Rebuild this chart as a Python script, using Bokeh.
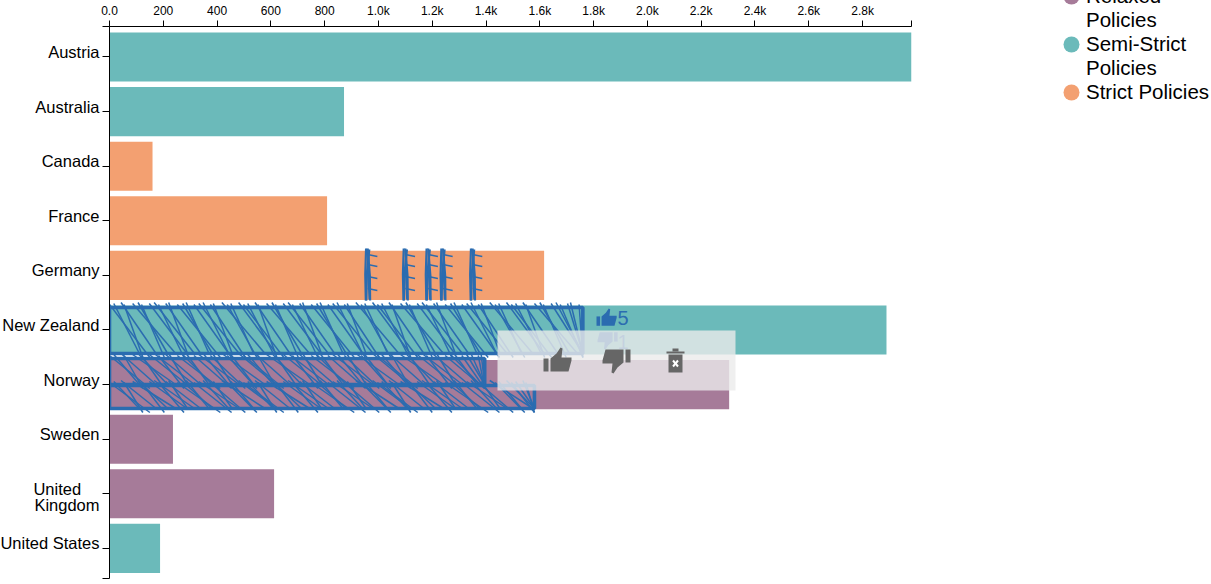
import numpy as np
from bokeh.plotting import figure
from bokeh.embed import file_html
from bokeh.resources import INLINE
from bokeh.core.properties import value
from bokeh.models import (ColumnDataSource, FixedTicker, Legend, LegendItem, LinearAxis, Range1d)

countries = ["Austria", "Australia", "Canada", "France", "Germany", "New Zealand",
             "Norway", "Sweden", "United Kingdom", "United States"]
amounts = [2982, 872, 160, 809, 1616, 2889, 2304, 236, 612, 188]
policies = ["Semi", "Semi", "Strict", "Strict", "Strict", "Semi", "Relaxed", "Relaxed", "Relaxed", "Semi"]
group_names = ["Relaxed", "Semi", "Strict"]
group_colors = ["#a67b99", "#6bbaba", "#f3a071"]
legend_lines = ["Relaxed", "Policies", "Semi-Strict", "Policies", "Strict Policies"]
legend_dots = ["#a67b99", None, "#6bbaba", None, "#f3a071"]
tick_values = [0, 200, 400, 600, 800, 1000, 1200, 1400, 1600, 1800, 2000, 2200, 2400, 2600, 2800]
tick_labels = ["0.0", "200", "400", "600", "800", "1.0k", "1.2k", "1.4k", "1.6k", "1.8k",
               "2.0k", "2.2k", "2.4k", "2.6k", "2.8k"]
# label rows: the long name wraps over a second line just under its own row
label_rows = [0, 1, 2, 3, 4, 5, 6, 7, 8, 8.3, 9]
label_texts = ["Austria", "Australia", "Canada", "France", "Germany", "New Zealand", "Norway", "Sweden",
               "United\u00a0\u00a0\u00a0\u00a0", "Kingdom", "United States"]

# hand-drawn selections: value from, value to, pixel top, pixel bottom
sel_x0 = [0, 0, 0]
sel_x1 = [1760, 1395, 1580]
sel_top = [307, 358, 385]
sel_bot = [353, 384, 408]
# brush strokes on Germany, at these values
germany_marks = [960, 1100, 1185, 1240, 1350]
stroke_steps = [16, 27, 11, 32, 20, 13, 29, 18]
stroke_slants = [150, 95, 130, 70, 160, 110, 85, 140]
ink = "#2b6cb0"

rows = list(range(len(countries)))
TOP_ROW, BOTTOM_ROW = -0.5586, 9.5513
LABEL_LIFT = 0.09  # names sit a little above their tick

p = figure(width=1211, height=584, output_backend="svg", toolbar_location=None,
           x_range=Range1d(0, 2982), x_axis_location="above",
           y_range=Range1d(BOTTOM_ROW, TOP_ROW),
           min_border_left=109, min_border_top=26, min_border_bottom=6,
           min_border_right=300, frame_width=802, frame_height=552, margin=(0, 0, 0, -3))
p.extra_y_ranges["px"] = Range1d(578, 26)
p.extra_y_ranges["labels"] = Range1d(BOTTOM_ROW + LABEL_LIFT, TOP_ROW + LABEL_LIFT)
p.extra_x_ranges["px"] = Range1d(109, 911)
p.grid.visible = False
p.outline_line_color = None
p.background_fill_color = None

xa = p.xaxis[0]
xa.ticker = FixedTicker(ticks=tick_values + [2982])
xa.major_label_overrides = {**dict(zip(tick_values, tick_labels)), 2982: ""}
xa.major_tick_out = 6
xa.major_tick_in = 0
xa.minor_tick_line_color = None
xa.major_label_standoff = 3
xa.major_label_text_font = "Liberation Sans"
xa.major_label_text_font_size = "12px"
xa.major_label_text_color = "#000000"
xa.axis_line_color = "#000000"
xa.major_tick_line_color = "#000000"

ya = p.yaxis[0]
ya.ticker = FixedTicker(ticks=rows + [TOP_ROW, BOTTOM_ROW])
ya.major_label_overrides = {**{r: "" for r in rows}, TOP_ROW: "", BOTTOM_ROW: ""}
ya.major_tick_out = 7
ya.major_tick_in = 0
ya.major_label_standoff = 0
ya.minor_tick_line_color = None
ya.axis_line_color = "#000000"
ya.major_tick_line_color = "#000000"

names_axis = LinearAxis(y_range_name="labels", ticker=FixedTicker(ticks=label_rows),
                        major_label_overrides=dict(zip(label_rows, label_texts)),
                        axis_line_color=None, major_tick_line_color=None, minor_tick_line_color=None,
                        major_tick_out=0, major_tick_in=0, major_label_standoff=3,
                        major_label_text_font="Liberation Sans", major_label_text_font_size="16.5px",
                        major_label_text_color="#000000")
p.add_layout(names_axis, "left")

for name, color in zip(group_names, group_colors):
    idx = [i for i, g in enumerate(policies) if g == name]
    src = ColumnDataSource(dict(y=idx, right=[amounts[i] for i in idx]))
    p.hbar(y="y", right="right", left=0, height=0.9, source=src, fill_color=color, line_color=None)

# brush outlines
xs, ys = [], []
for a, b, t, u in zip(sel_x0, sel_x1, sel_top, sel_bot):
    xs.append([a, b, b, a, a])
    ys.append([t, t, u, u, t])
p.multi_line(xs, ys, y_range_name="px", line_color=ink, line_width=3.6)

# brush hatching
hx0, hx1, hy0, hy1 = [], [], [], []
for a, b, t, u in zip(sel_x0, sel_x1, sel_top, sel_bot):
    v, k = a, 0
    while v < b - 12:
        slant = stroke_slants[k % 8]
        hx0.append(v); hx1.append(min(v + slant, b))
        hy0.append(t - 3 - k % 3); hy1.append(u + (4 if k % 3 == 0 else 0))
        v += stroke_steps[k % 8]
        k += 1
p.segment(hx0, hy0, hx1, hy1, y_range_name="px", line_color=ink, line_width=1.5)

# brush strokes on Germany
for m in germany_marks:
    p.multi_line([[m - 6, m - 9, m - 7], [m + 6, m - 3, m - 5], [m, m + 8, m + 9], [m + 2, m + 3, m + 7]],
                 [[248, 274, 300], [249, 273, 300], [248, 275, 300], [250, 274, 299]],
                 y_range_name="px", line_color=ink, line_width=2.2)
    p.segment([m] * 4, [254, 264, 276, 288], [m + 36] * 4, [256, 266, 278, 290],
              y_range_name="px", line_color=ink, line_width=1.3)

# icon outlines in pixels around a 28x25 box
thumb_x = np.array([0, 5, 5, 0, 0, np.nan, 7, 13, 17, 19, 18, 28, 28, 25, 7, 7], dtype=float)
thumb_y = np.array([11, 11, 24, 24, 11, np.nan, 11, 6, 0, 1, 10, 10, 13, 24, 24, 11], dtype=float)


def thumb(left, top, scale=1.0, down=False, **kw):
    x_off = (28 - thumb_x) if down else thumb_x
    y_off = (25 - thumb_y) if down else thumb_y
    for part_x, part_y in ((x_off[:5], y_off[:5]), (x_off[6:], y_off[6:])):
        p.patch(left + part_x * scale, top + part_y * scale, x_range_name="px", y_range_name="px",
                line_color=None, **kw)


thumb(596, 308, 0.72, fill_color=ink)
thumb(597, 331, 0.72, down=True, fill_color=ink)
p.text([617, 617], [317, 341], text=["5", "1"], x_range_name="px", y_range_name="px",
       text_color=ink, text_font=value("Liberation Sans"), text_font_size="20px",
       text_baseline="middle")

# action bar
p.quad(left=[497], right=[735], top=[330], bottom=[390], x_range_name="px", y_range_name="px",
       fill_color="#ebebeb", fill_alpha=0.8, line_color=None)
grey = "#666666"
thumb(543, 347, fill_color=grey)
thumb(602, 348, down=True, fill_color=grey)
p.quad(left=[666, 668, 672], right=[684, 682, 678], top=[351, 354, 348], bottom=[353, 372, 351],
       x_range_name="px", y_range_name="px", fill_color=grey, line_color=None)
p.segment([672.5, 672.5], [360, 366], [677.5, 677.5], [366, 360], x_range_name="px", y_range_name="px",
          line_color="#ffffff", line_width=2)

# legend: one item per line of text; the dots come from ellipse glyphs parked outside the view
items = []
for line, dot in zip(legend_lines, legend_dots):
    g = p.ellipse(x=[-1000], y=[0], width=10, height=10, width_units="screen", height_units="screen",
                  fill_color=dot, line_color=None, fill_alpha=1 if dot else 0)
    items.append(LegendItem(label=line, renderers=[g]))
legend = Legend(items=items, location=(150, 474), orientation="vertical", border_line_color=None,
                background_fill_color=None, background_fill_alpha=0, label_text_font="Liberation Sans",
                label_text_font_size="20.5px", label_text_color="#000000", label_text_line_height=0.97,
                label_height=20, glyph_width=20, glyph_height=20, spacing=-4, margin=0, padding=0,
                label_standoff=5)
p.add_layout(legend, "right")

open("out.html", "w").write(file_html(p, INLINE))
